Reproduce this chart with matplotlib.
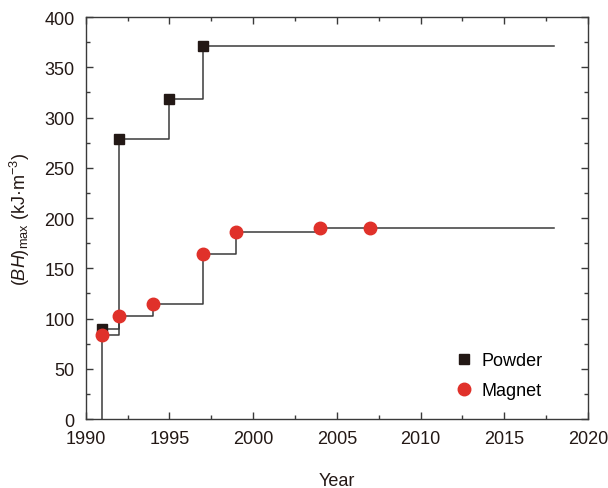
import matplotlib
matplotlib.use("Agg")
import matplotlib.pyplot as plt
from matplotlib.ticker import MultipleLocator

plt.rcParams['font.family'] = 'Liberation Sans'
plt.rcParams['mathtext.fontset'] = 'custom'
plt.rcParams['mathtext.rm'] = 'Liberation Sans'
plt.rcParams['mathtext.it'] = 'Liberation Sans:italic'

# Data
powder_years = [1991, 1992, 1995, 1997]
powder_bh = [90, 279, 318, 371]
magnet_years = [1991, 1992, 1994, 1997, 1999, 2004, 2007]
magnet_bh = [84, 103, 114, 164, 186, 190, 190]
end_year = 2018

fig = plt.figure(figsize=(6.08, 4.89), dpi=100)
ax = fig.add_axes([0.141, 0.141, 0.826, 0.822])

line_color = '#3a3a3a'
# step lines (start from zero at the first year)
ax.step([powder_years[0]] + powder_years + [end_year],
        [0] + powder_bh + [powder_bh[-1]], where='post', color=line_color, lw=1.1, zorder=1)
ax.step(magnet_years + [end_year], magnet_bh + [magnet_bh[-1]],
        where='post', color=line_color, lw=1.1, zorder=1)

ax.plot(powder_years, powder_bh, 's', color='#231815', ms=7, ls='none', label='Powder', zorder=3)
ax.plot(magnet_years, magnet_bh, 'o', color='#e0312a', ms=9, ls='none', label='Magnet', zorder=3)

ax.set_xlim(1990, 2020)
ax.set_ylim(0, 400)
ax.xaxis.set_major_locator(MultipleLocator(5))
ax.xaxis.set_minor_locator(MultipleLocator(2.5))
ax.yaxis.set_major_locator(MultipleLocator(50))
ax.yaxis.set_minor_locator(MultipleLocator(25))
ax.tick_params(which='both', direction='in', top=True, right=True, labelsize=13,
               colors='#3a3a3a', labelcolor='#231815')
ax.tick_params(axis='x', which='major', pad=8)
ax.tick_params(axis='y', which='major', pad=8)
ax.tick_params(which='major', length=5, width=1)
ax.tick_params(which='minor', length=3, width=1)
for s in ax.spines.values():
    s.set_color('#3a3a3a')
    s.set_linewidth(1)

ax.set_xlabel('Year', fontsize=13, labelpad=18, color='#231815')
ax.set_ylabel(r'$(\mathit{BH})_{\mathrm{max}}$ (kJ·m$^{-3}$)', fontsize=13, labelpad=9, color='#231815')

ax.legend(loc='lower right', frameon=False, fontsize=13, handletextpad=0.2, handlelength=1.6,
          labelspacing=0.7, borderaxespad=0, borderpad=0, bbox_to_anchor=(0.91, 0.05))

fig.savefig('out.png', dpi=100)
